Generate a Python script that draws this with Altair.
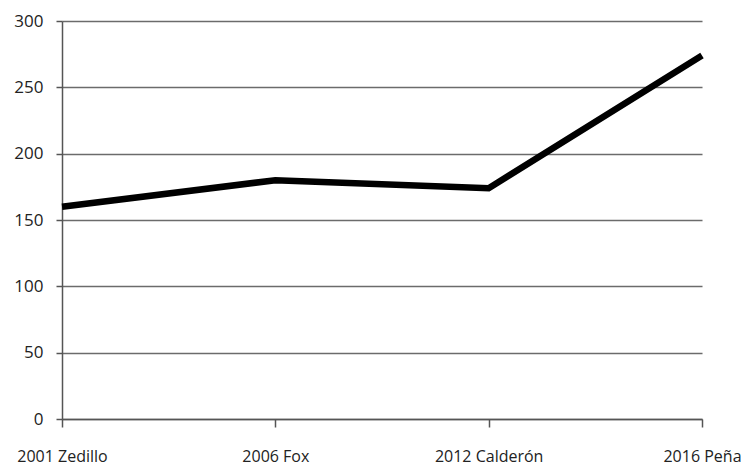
import altair as alt
import pandas as pd

categories = ["2001 Zedillo", "2006 Fox", "2012 Calderón", "2016 Peña"]
values = [160, 180, 174, 274]

df = pd.DataFrame({"cat": categories, "val": values})

chart = alt.Chart(df).mark_line(color="black", strokeWidth=6.5, strokeCap="butt", strokeJoin="miter").encode(
    x=alt.X("cat:N", sort=categories, title=None,
            scale=alt.Scale(type="point", padding=0),
            axis=alt.Axis(labelAngle=0, labelFontSize=16, labelFont="Open Sans", labelColor="#222",
                          domainColor="#555", domainWidth=1.5, tickColor="#555", tickWidth=1.5,
                          tickSize=8, labelPadding=21, grid=False)),
    y=alt.Y("val:Q", title=None,
            scale=alt.Scale(domain=[0, 300], nice=False),
            axis=alt.Axis(values=[0, 50, 100, 150, 200, 250, 300], labelFontSize=17, labelFont="Open Sans",
                          labelColor="#222", domainColor="#555", domainWidth=1.5, tickColor="#555",
                          tickWidth=1.5, tickSize=6, labelPadding=13, grid=True, gridColor="#6b6b6b",
                          gridWidth=1.3)),
).properties(
    width=640, height=398,
    background="white",
    autosize=alt.AutoSizeParams(type="none"),
    padding={"left": 62, "top": 21, "right": 43, "bottom": 48},
).configure_view(strokeWidth=0, stroke="transparent")

chart.save("out.html", embed_options={"renderer": "svg", "actions": False})
